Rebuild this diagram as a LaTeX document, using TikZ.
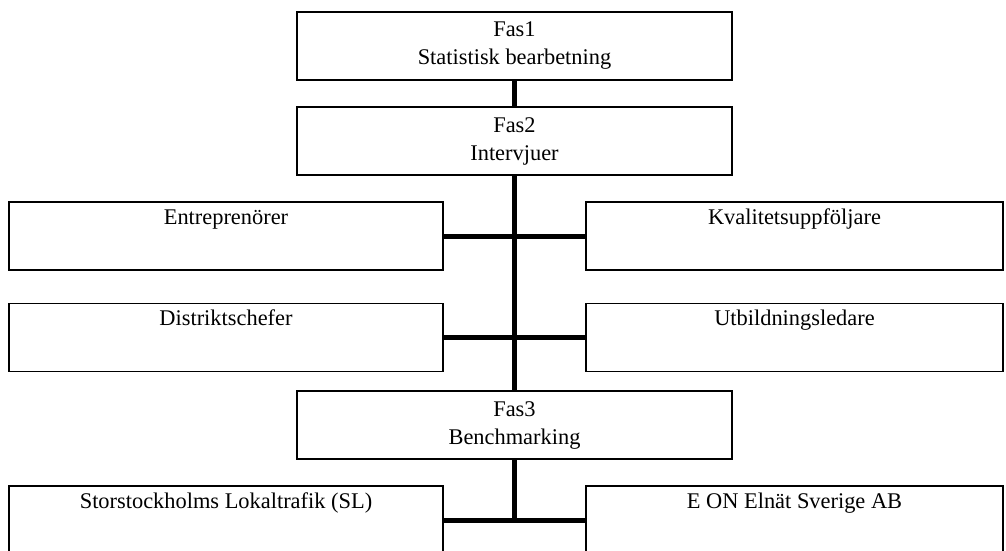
\documentclass[tikz,border=0pt]{standalone}
\usepackage{fontspec}
\setmainfont{Liberation Serif}
\usepackage{tikz}
\usetikzlibrary{positioning,calc}

\tikzset{
  fasbox/.style={draw,line width=1.1pt,minimum width=326pt,minimum height=51pt,
    align=center,inner sep=0pt},
  rolebox/.style={draw,line width=1.1pt,inner xsep=0pt,inner ysep=0pt,
    text height=16.5pt,text depth=34.5pt},
  link/.style={line width=3.75pt}
}

\begin{document}
\begin{tikzpicture}[x=0.75pt,y=-0.75pt,font=\fontsize{16.8}{21}\selectfont]
\useasboundingbox (0,0) rectangle (1006,550);

\node[fasbox] (fas1) at (514.5,46) {Fas1\\Statistisk bearbetning};
\node[fasbox] (fas2) at (514.5,141) {Fas2\\Intervjuer};

\node[rolebox,minimum width=325.5pt] (entr) at (226,236) {Entreprenörer};
\node[rolebox,minimum width=312.75pt] (kval) at (794.5,236) {Kvalitetsuppföljare};
\node[rolebox,minimum width=325.5pt] (distr) at (226,337.5) {Distriktschefer};
\node[rolebox,minimum width=312.75pt] (utb) at (794.5,337.5) {Utbildningsledare};

\node[fasbox] (fas3) at (514.5,425) {Fas3\\Benchmarking};

\node[rolebox,minimum width=325.5pt] (sl) at (226,520) {Storstockholms Lokaltrafik (SL)};
\node[rolebox,minimum width=312.75pt] (eon) at (794.5,520) {E ON Elnät Sverige AB};

% kopplingar
\draw[link] (fas1) -- (fas2);
\draw[link] (fas2) -- (fas3);
\draw[link] (entr) -- (kval);
\draw[link] (distr) -- (utb);
\draw[link] (fas3.south) -- (fas3.south |- sl.east);
\draw[link] (sl) -- (eon);
\end{tikzpicture}
\end{document}
